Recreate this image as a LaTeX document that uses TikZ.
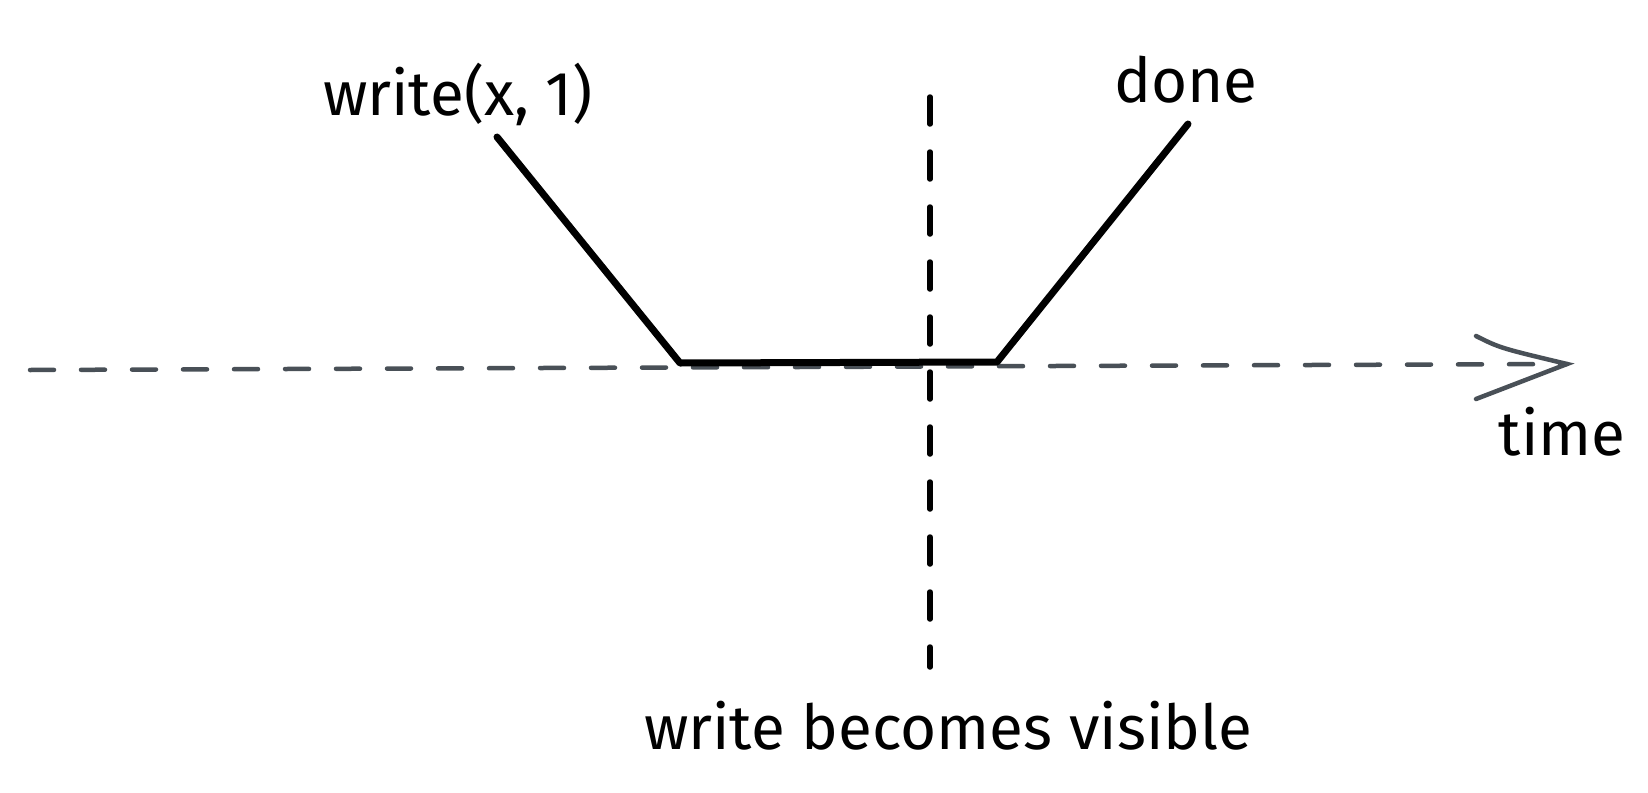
\documentclass[tikz,border=0pt]{standalone}
\usepackage{fontspec}
\setmainfont{Fira Sans}
\begin{document}
\begin{tikzpicture}[x=1pt,y=-1pt,
  axisline/.style={draw=axisgray,line width=4.5pt,line cap=round,dash pattern=on 24pt off 27pt},
  visline/.style={draw=black,line width=5.5pt,line cap=round,dash pattern=on 27pt off 28pt},
  opline/.style={draw=black,line width=7pt,line cap=round,line join=round},
  headline/.style={draw=axisgray,line width=4.5pt,line cap=round},
  lbl/.style={inner sep=0pt,font=\fontsize{62}{72}\selectfont}]
\definecolor{axisgray}{HTML}{495057}
\useasboundingbox (0,0) rectangle (1648,792);
\fill[white] (0,0) rectangle (1648,792);
% time axis
\coordinate (ax0) at (30,370);
\coordinate (ax1) at (1567,364);
\coordinate (hu) at (1476,336);
\coordinate (hl) at (1476,399);
\draw[axisline] (ax0) -- (ax1);
\draw[headline] (hu) .. controls (1500,348) .. (ax1) -- (hl);
\node[lbl,anchor=center] (time) at (1562,432) {time};
% visibility line
\coordinate (v0) at (930,97);
\coordinate (v1) at (930,667);
\draw[visline] (v0) -- (v1);
\node[lbl,anchor=center] (vis) at (948,726) {write becomes visible};
% operation
\coordinate (p0) at (497,137);
\coordinate (p1) at (680,363);
\coordinate (p2) at (997,362);
\coordinate (p3) at (1188,124);
\draw[opline] (p0) -- (p1) -- (p2) -- (p3);
\node[lbl,anchor=center] (wr) at (458,94) {write(x, 1)};
\node[lbl,anchor=center] (done) at (1186,80) {done};
\end{tikzpicture}
\end{document}
